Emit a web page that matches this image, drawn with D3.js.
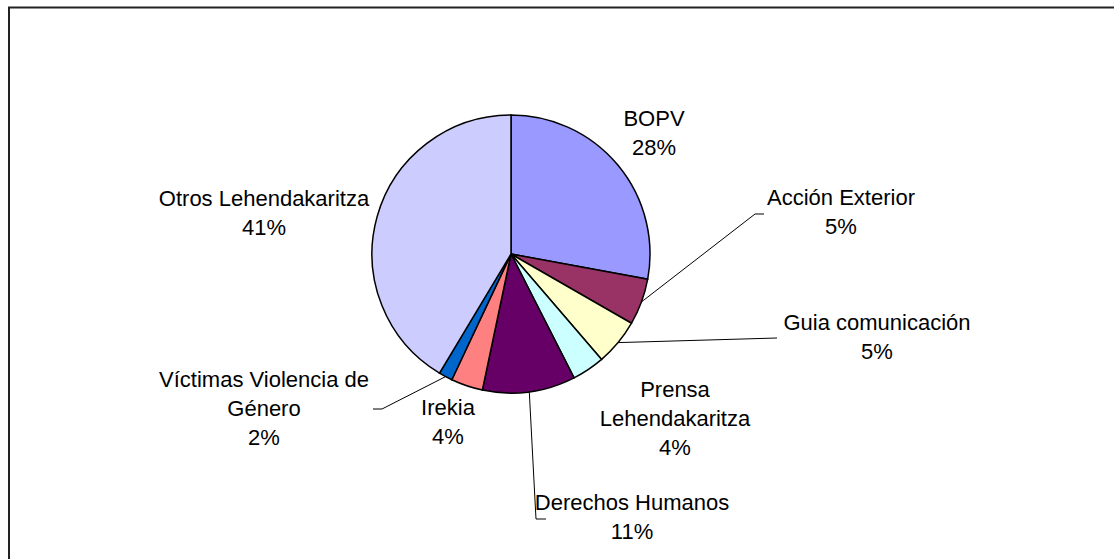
<!DOCTYPE html>
<html>
<head>
<meta charset="utf-8">
<script src="https://cdn.jsdelivr.net/npm/d3@7"></script>
<style>
  body { margin: 0; background: #fff; }
  svg { display: block; }
  .label { font-family: "Liberation Sans", Arial, sans-serif; font-size: 22px; fill: #000; }
  .slice { stroke: #000; stroke-width: 1.5; }
  .leader { fill: none; stroke: #000; stroke-width: 1; }
</style>
</head>
<body>
<svg></svg>
<script>
// data (clockwise from 12 o'clock)
let categories = ["BOPV", "Acción Exterior", "Guia comunicación", "Prensa Lehendakaritza",
                  "Derechos Humanos", "Irekia", "Víctimas Violencia de Género", "Otros Lehendakaritza"];
let values = [27.9, 5.4, 5.4, 3.8, 10.8, 3.7, 1.6, 41.4];
let colors = ["#9999ff", "#993366", "#ffffcc", "#ccffff", "#660066", "#ff8080", "#0066cc", "#ccccff"];

// label layout: text lines, centre x, first baseline, optional leader elbow/end
let labelLines = [["BOPV"], ["Acción Exterior"], ["Guia comunicación"], ["Prensa", "Lehendakaritza"],
                  ["Derechos Humanos"], ["Irekia"], ["Víctimas Violencia de", "Género"], ["Otros Lehendakaritza"]];
let labelX = [654, 841, 877, 675, 632, 448, 264, 264];
let labelY = [126, 205, 330, 397, 510, 415, 387, 206];
let leaders = [null, [[755, 214], [764, 214]], [[777, 338]], null, [[536, 519], [546, 519]],
               null, [[382, 409], [373, 409]], null];

window.onload = () => {
    let width = 1114, height = 559;
    let cx = 511, cy = 254, r = 139, lineH = 29;

    let svg = d3.select("svg").attr("width", width).attr("height", height);

    // outer frame (top and left edges visible)
    svg.append("path")
        .attr("d", "M9,559 V7.5 H1114")
        .attr("fill", "none")
        .attr("stroke", "#222")
        .attr("stroke-width", 2);

    let total = d3.sum(values);
    let pie = d3.pie().sort(null).value(d => d)(values);
    let arc = d3.arc().innerRadius(0).outerRadius(r);

    let g = svg.append("g").attr("transform", "translate(" + cx + "," + cy + ")");
    g.selectAll("path")
        .data(pie)
        .enter()
        .append("path")
            .attr("class", "slice")
            .attr("d", arc)
            .style("fill", (d, i) => colors[i]);

    // leader lines
    pie.forEach((d, i) => {
        if (!leaders[i]) return;
        let a = (d.startAngle + d.endAngle) / 2;
        let start = [cx + r * Math.sin(a), cy - r * Math.cos(a)];
        svg.append("path")
            .attr("class", "leader")
            .attr("d", d3.line()([start].concat(leaders[i])));
    });

    // labels
    categories.forEach((c, i) => {
        let lines = labelLines[i].concat([Math.round(values[i] / total * 100) + "%"]);
        let t = svg.append("text")
            .attr("class", "label")
            .attr("text-anchor", "middle");
        lines.forEach((s, k) => {
            t.append("tspan")
                .attr("x", labelX[i])
                .attr("y", labelY[i] + k * lineH)
                .text(s);
        });
    });
};
</script>
</body>
</html>
